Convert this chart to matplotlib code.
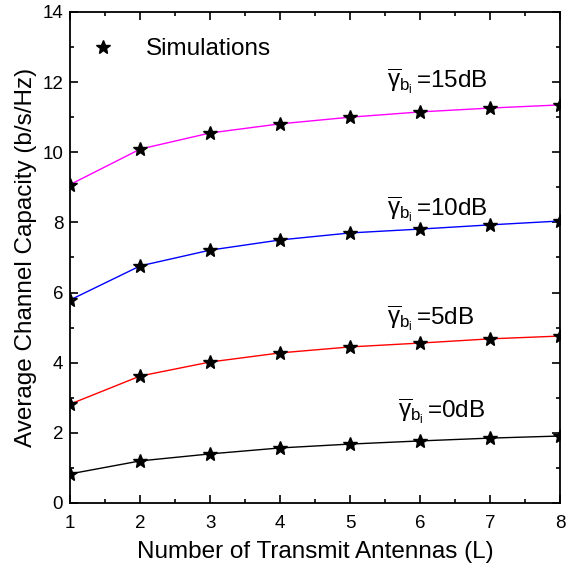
import matplotlib
matplotlib.use('Agg')
import matplotlib.pyplot as plt
from matplotlib.ticker import MultipleLocator

plt.rcParams['font.family'] = ['Liberation Sans', 'DejaVu Sans']
plt.rcParams['mathtext.fontset'] = 'custom'
plt.rcParams['mathtext.rm'] = 'Liberation Sans'
plt.rcParams['mathtext.it'] = 'Liberation Sans'

L = [1, 2, 3, 4, 5, 6, 7, 8]
cap_0dB = [0.83, 1.20, 1.40, 1.57, 1.68, 1.77, 1.85, 1.91]
cap_5dB = [2.82, 3.62, 4.02, 4.28, 4.45, 4.56, 4.68, 4.76]
cap_10dB = [5.79, 6.76, 7.21, 7.50, 7.70, 7.81, 7.93, 8.04]
cap_15dB = [9.08, 10.09, 10.55, 10.81, 11.00, 11.15, 11.26, 11.35]

series = [(cap_0dB, 'black', '0'), (cap_5dB, 'red', '5'),
          (cap_10dB, 'blue', '10'), (cap_15dB, 'magenta', '15')]
label_pos = {'0': (5.68, 2.45), '5': (5.52, 5.1), '10': (5.52, 8.2), '15': (5.52, 11.85)}

fig, ax = plt.subplots(figsize=(5.8, 5.69), dpi=100)
fig.subplots_adjust(left=0.121, right=0.966, top=0.979, bottom=0.116)

for vals, col, snr in series:
    ax.plot(L, vals, color=col, lw=1, zorder=2)
    ax.plot(L, vals, ls='none', marker='*', ms=10, color='black', zorder=3)
    x, y = label_pos[snr]
    ax.text(x, y, r'$\overline{\gamma}_{\mathrm{b}_{\mathrm{i}}}\,$=' + snr + 'dB', fontsize=17.5)

ax.plot([], [], ls='none', marker='*', ms=10, color='black', label='Simulations')
ax.legend(loc='upper left', frameon=False, fontsize=17.5, handletextpad=0.8,
          borderaxespad=0.8, bbox_to_anchor=(-0.043, 1.006))

ax.set_xlim(1, 8)
ax.set_ylim(0, 14)
ax.xaxis.set_major_locator(MultipleLocator(1))
ax.xaxis.set_minor_locator(MultipleLocator(0.5))
ax.yaxis.set_major_locator(MultipleLocator(2))
ax.yaxis.set_minor_locator(MultipleLocator(1))
ax.tick_params(which='both', direction='in', top=True, right=True, labelsize=13.5, width=1.2)
ax.tick_params(which='major', length=6)
ax.tick_params(which='minor', length=3)
ax.tick_params(axis='x', pad=9)
ax.tick_params(axis='y', pad=5)
for s in ax.spines.values():
    s.set_linewidth(1.3)
ax.set_xlabel('Number of Transmit Antennas (L)', fontsize=17.5, labelpad=6)
ax.set_ylabel('Average Channel Capacity (b/s/Hz)', fontsize=17.5, labelpad=4)

plt.savefig('out.png', dpi=100)
